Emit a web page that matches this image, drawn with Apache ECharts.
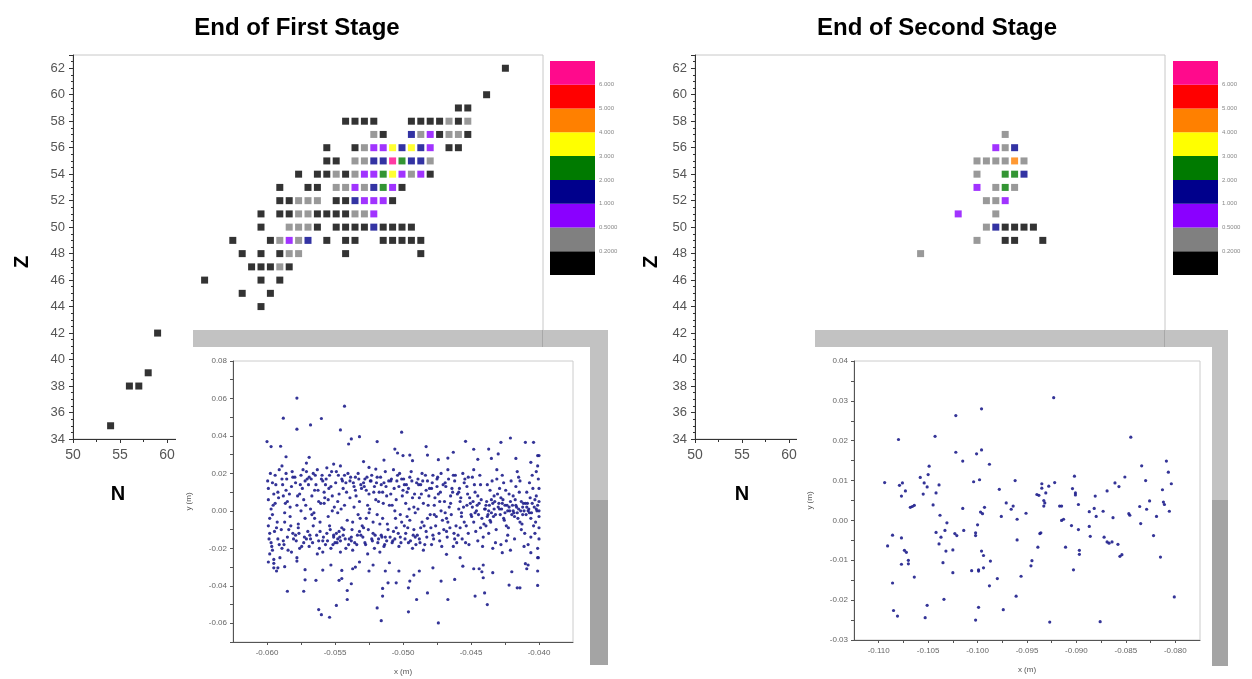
<!DOCTYPE html>
<html><head><meta charset="utf-8">
<script src="https://cdn.jsdelivr.net/npm/echarts/dist/echarts.min.js"></script>
<style>html,body{margin:0;padding:0;background:#fff}#c{width:1252px;height:679px}</style>
</head><body><div id="c"></div>
<script>
// ---------- DATA ----------
const panelTitles = ['End of First Stage', 'End of Second Stage'];
// colour classes (index 0 = lowest)
const levelColors = ['#000000','#808080','#8a00ff','#00008c','#007a00','#ffff00','#ff8000','#ff0000','#ff0a8c'];
const levelLabels = ['', '0.2000', '0.5000', '1.000', '2.000', '3.000', '4.000', '5.000', '6.000', ''];

// [N, Z, colour class]
const firstStageCells = [
[96,62,0],
[94,60,0],
[91,59,0],[92,59,0],
[79,58,0],[80,58,0],[81,58,0],[82,58,0],[86,58,0],[87,58,0],[88,58,0],[89,58,0],[90,58,1],[91,58,0],[92,58,1],
[82,57,1],[83,57,0],[86,57,3],[87,57,1],[88,57,2],[89,57,0],[90,57,1],[91,57,1],[92,57,0],
[77,56,0],[80,56,0],[81,56,1],[82,56,2],[83,56,2],[84,56,5],[85,56,3],[86,56,5],[87,56,3],[88,56,2],[90,56,0],[91,56,0],
[77,55,0],[78,55,0],[80,55,1],[81,55,1],[82,55,3],[83,55,3],[84,55,8],[85,55,4],[86,55,3],[87,55,3],[88,55,1],
[74,54,0],[76,54,0],[77,54,0],[78,54,1],[79,54,0],[80,54,1],[81,54,2],[82,54,2],[83,54,4],[84,54,5],[85,54,2],[86,54,1],[87,54,2],[88,54,0],
[72,53,0],[75,53,0],[76,53,0],[78,53,1],[79,53,1],[80,53,2],[81,53,1],[82,53,3],[83,53,4],[84,53,2],[85,53,0],
[72,52,0],[73,52,0],[74,52,1],[75,52,1],[76,52,1],[78,52,0],[79,52,0],[80,52,3],[81,52,2],[82,52,2],[83,52,2],[84,52,0],
[70,51,0],[72,51,0],[73,51,0],[74,51,1],[75,51,1],[76,51,0],[77,51,0],[78,51,0],[79,51,0],[80,51,1],[81,51,1],[82,51,2],
[70,50,0],[73,50,1],[74,50,1],[75,50,1],[76,50,0],[78,50,0],[79,50,0],[80,50,0],[81,50,0],[82,50,3],[83,50,0],[84,50,0],[85,50,0],[86,50,0],
[67,49,0],[71,49,0],[72,49,1],[73,49,2],[74,49,1],[75,49,3],[77,49,0],[79,49,0],[80,49,0],[83,49,0],[84,49,0],[85,49,0],[86,49,0],[87,49,0],
[68,48,0],[70,48,0],[72,48,0],[73,48,1],[74,48,1],[79,48,0],[87,48,0],
[69,47,0],[70,47,0],[71,47,0],[72,47,1],[73,47,0],
[64,46,0],[70,46,0],[72,46,0],
[68,45,0],[71,45,0],
[70,44,0],
[59,42,0],
[58,39,0],
[56,38,0],[57,38,0],
[54,35,0]
];

const secondStageCells = [
[83,57,1],
[82,56,2],[83,56,1],[84,56,3],
[80,55,1],[81,55,1],[82,55,1],[83,55,1],[84,55,6],[85,55,1],
[80,54,1],[83,54,4],[84,54,4],[85,54,3],
[80,53,2],[82,53,1],[83,53,4],[84,53,1],
[81,52,1],[82,52,1],[83,52,2],
[78,51,2],[82,51,1],
[81,50,1],[82,50,3],[83,50,0],[84,50,0],[85,50,0],[86,50,0],
[80,49,1],[83,49,0],[84,49,0],[87,49,0],
[74,48,1]
];

// inset scatter points, [x, y] in millimetres
const firstInsetPoints = [
[-60.0,37.0],[-59.7,34.3],[-59.0,34.5],[-58.6,28.9],[-58.8,49.5],[-57.8,60.2],[-57.8,43.6],[-56.8,45.9],[-56.0,49.3],[-56.9,28.6],[-54.6,43.2],[-54.3,55.9],[-54.0,35.7],[-53.8,38.4],[-53.2,39.6],[-52.9,26.3],[-51.9,37.0],[-51.4,27.1],[-50.6,33.0],[-50.1,42.0],[-50.4,30.9],[-50.0,29.5],[-49.5,29.8],[-48.3,34.3],[-48.2,29.8],[-47.4,27.3],[-46.7,28.2],[-45.4,37.1],[-44.8,32.9],[-44.5,27.5],[-43.7,33.0],[-42.8,36.6],[-42.1,38.9],[-41.0,36.6],[-40.4,36.6],[-40.1,29.5],[-40.0,29.5],[-41.7,28.0],[-40.6,25.9],[-43.0,30.4],[-43.5,28.0],[-46.3,31.3],[-49.3,26.8],[-57.1,25.5],[-55.1,25.0],[-52.5,23.2],[-52.0,22.3],
[-59.9,-27.3],[-59.5,-25.9],[-59.5,-30.4],[-59.3,-32.1],[-59.2,-30.4],[-58.7,-29.8],[-58.5,-42.9],[-57.8,-26.8],[-57.3,-42.9],[-57.2,-31.4],[-57.2,-36.8],[-56.4,-37.1],[-56.2,-52.7],[-56.0,-55.4],[-55.9,-31.6],[-55.4,-56.8],[-55.3,-28.9],[-54.9,-50.5],[-54.5,-31.8],[-54.7,-37.1],[-54.5,-36.1],[-54.1,-47.3],[-54.1,-42.5],[-53.8,-38.9],[-53.7,-30.9],[-53.5,-30.0],[-53.2,-27.3],[-52.5,-32.1],[-52.2,-28.9],[-51.9,-51.8],[-51.6,-58.6],[-51.5,-41.4],[-51.5,-45.5],[-51.3,-32.1],[-51.1,-38.4],[-51.0,-27.7],[-50.5,-38.4],[-50.3,-32.1],[-49.6,-53.9],[-49.6,-41.1],[-49.5,-37.5],[-49.2,-34.3],[-49.0,-47.3],[-48.8,-32.1],[-48.2,-43.8],[-47.8,-30.4],[-47.4,-59.8],[-47.2,-37.5],[-46.8,-23.2],[-46.7,-47.3],[-46.2,-36.6],[-45.8,-25.0],[-45.6,-29.5],[-44.8,-30.9],[-44.7,-45.5],[-44.4,-30.9],[-44.2,-32.5],[-44.1,-35.7],[-44.0,-43.8],[-44.1,-28.9],[-43.8,-50.0],[-43.4,-33.0],[-42.7,-22.3],[-42.2,-39.6],[-41.6,-41.1],[-41.4,-41.1],[-41.0,-28.2],[-40.8,-28.9],[-40.9,-30.9],[-40.1,-32.1],[-40.1,-39.8],[-40.1,-25.0],[-40.6,-22.3],[-42.0,-32.5],
[-59.9,12],[-59.8,-4],[-59.7,-17],[-59.9,6],[-59.6,-21],[-59.5,9],[-59.8,-12],[-59.4,19],[-59.7,1],[-59.3,-9],[-59.6,15],[-59.5,-28],[-59.2,-15],[-59.9,-8],[-59.4,4],[-59.1,22],[-59.6,-2],[-59.2,10],[-59.8,-23],[-59.1,-18],
[-58.9,17],[-58.7,-6],[-58.8,8],[-58.5,-14],[-58.6,20],[-58.3,2],[-58.9,-20],[-58.2,13],[-58.4,-10],[-58.7,-1],[-58.1,18],[-58.5,5],[-58.8,-16],[-58.2,-22],[-58.6,11],[-58.3,-3],[-58.1,-12],[-58.9,24],
[-57.9,15],[-57.7,-9],[-57.5,19],[-57.8,3],[-57.3,-17],[-57.6,9],[-57.2,-4],[-57.9,-13],[-57.4,12],[-57.1,21],[-57.6,-20],[-57.3,6],[-57.8,-25],[-57.0,-11],[-57.5,0],[-57.2,16],[-57.7,-7],[-57.1,-15],
[-56.9,18],[-56.7,-2],[-56.5,11],[-56.8,-15],[-56.3,22],[-56.6,-8],[-56.2,5],[-56.9,-19],[-56.4,14],[-56.1,-11],[-56.7,8],[-56.3,-23],[-56.5,-4],[-56.0,17],[-56.8,1],[-56.2,-16],[-56.6,20],[-56.1,-6],
[-55.9,16],[-55.6,-12],[-55.8,4],[-55.4,19],[-55.7,-18],[-55.2,8],[-55.5,-3],[-55.9,-22],[-55.3,13],[-55.1,-14],[-55.6,23],[-55.4,-8],[-55.8,10],[-55.0,-17],[-55.2,0],[-55.7,14],[-55.3,-20],[-55.5,6],[-55.1,-13],[-55.9,-16],
[-54.9,-12],[-54.8,-15],[-54.7,-11],[-54.6,-16],[-54.4,-13],[-54.5,-9],
[-54.9,21],[-54.7,9],[-54.5,17],[-54.8,-1],[-54.3,3],[-54.6,24],[-54.2,-20],[-54.4,12],[-54.1,-5],[-54.8,5],[-54.2,15],[-54.0,-18],[-54.6,-22],[-54.3,19],
[-53.9,16],[-53.7,-6],[-53.5,11],[-53.8,-14],[-53.3,20],[-53.6,2],[-53.2,-11],[-53.9,7],[-53.4,-18],[-53.1,14],[-53.7,-21],[-53.3,-2],[-53.5,18],[-53.0,-8],[-53.8,-16],[-53.2,5],[-53.6,13],[-53.1,-13],
[-52.9,15],[-52.7,-4],[-52.5,9],[-52.8,-17],[-52.3,19],[-52.6,3],[-52.2,-12],[-52.9,-9],[-52.4,16],[-52.1,-20],[-52.7,11],[-52.3,-15],[-52.5,-1],[-52.0,6],[-52.8,17],[-52.2,-6],[-52.6,-23],[-52.1,13],
[-51.9,18],[-51.6,-13],[-51.8,5],[-51.4,15],[-51.7,-7],[-51.2,-16],[-51.5,10],[-51.9,-2],[-51.3,21],[-51.1,-10],[-51.6,14],[-51.4,-19],[-51.8,-15],[-51.0,3],[-51.2,8],[-51.7,-22],[-51.5,-4],[-51.3,-14],
[-50.9,16],[-50.7,-11],[-50.5,6],[-50.8,-17],[-50.3,13],[-50.6,0],[-50.2,-14],[-50.9,9],[-50.4,19],[-50.1,-6],[-50.7,22],[-50.3,-19],[-50.5,-9],[-50.0,11],[-50.8,3],[-50.2,-2],[-50.6,-15],[-50.1,17],
[-49.9,14],[-49.7,-3],[-49.5,18],[-49.8,-12],[-49.3,7],[-49.6,-17],[-49.2,2],[-49.9,-8],[-49.4,21],[-49.1,-14],[-49.7,10],[-49.3,-20],[-49.5,-5],[-49.0,15],[-49.8,4],[-49.2,-10],[-49.6,12],[-49.1,-1],
[-48.9,17],[-48.7,-9],[-48.5,4],[-48.8,-15],[-48.3,11],[-48.6,20],[-48.2,-4],[-48.9,1],[-48.4,-18],[-48.1,8],[-48.7,14],[-48.3,-11],[-48.5,-21],[-48.0,-2],[-48.8,7],[-48.2,16],[-48.6,-6],
[-47.9,12],[-47.7,-2],[-47.5,17],[-47.8,-13],[-47.3,5],[-47.6,-8],[-47.2,20],[-47.9,-18],[-47.4,9],[-47.1,-5],[-47.7,3],[-47.3,-16],[-47.5,13],[-47.0,-10],[-47.8,19],[-47.2,0],
[-46.9,15],[-46.7,-6],[-46.5,8],[-46.8,-11],[-46.3,19],[-46.6,2],[-46.2,-15],[-46.9,-1],[-46.4,12],[-46.1,-8],[-46.7,22],[-46.3,-19],[-46.5,4],[-46.0,9],[-46.8,-4],[-46.2,16],
[-45.9,10],[-45.7,-3],[-45.5,15],[-45.8,-9],[-45.3,3],[-45.6,20],[-45.2,-12],[-45.9,1],[-45.4,-17],[-45.1,7],[-45.7,-1],[-45.3,13],[-45.5,-6],[-45.0,-2],[-45.8,5],[-45.2,18],
[-44.9,2],[-44.7,-1],[-44.5,8],[-44.8,-6],[-44.3,14],[-44.6,0],[-44.2,-4],[-44.9,18],[-44.4,4],[-44.1,-14],[-44.7,10],[-44.3,-9],[-44.5,-16],[-44.0,1],[-44.8,22],
[-43.9,3],[-43.7,0],[-43.5,6],[-43.8,-3],[-43.3,1],[-43.6,11],[-43.2,-2],[-43.9,-8],[-43.4,4],[-43.1,17],[-43.7,-12],[-43.3,8],[-43.5,-1],[-43.0,2],[-43.8,14],[-43.2,-17],[-43.6,-5],
[-42.9,1],[-42.7,4],[-42.5,-1],[-42.8,7],[-42.3,0],[-42.6,-4],[-42.2,2],[-42.9,12],[-42.4,-8],[-42.1,5],[-42.7,19],[-42.3,-13],[-42.5,3],[-42.0,-2],[-42.8,-18],[-42.2,9],[-42.6,15],
[-41.9,0],[-41.7,3],[-41.5,1],[-41.8,-3],[-41.3,5],[-41.6,-1],[-41.2,2],[-41.9,8],[-41.4,-6],[-41.1,0],[-41.7,13],[-41.3,-10],[-41.5,18],[-41.0,4],[-41.8,-15],[-41.2,-2],[-41.6,21],
[-40.9,2],[-40.7,-1],[-40.5,4],[-40.8,0],[-40.3,6],[-40.6,-4],[-40.2,1],[-40.9,10],[-40.4,-8],[-40.1,3],[-40.7,15],[-40.3,-12],[-40.5,19],[-40.0,-3],[-40.8,-18],[-40.2,8],[-40.1,-20],[-40.0,12],[-40.0,5],[-40.1,24],[-40.0,-15],
[-59.95,16],[-59.85,-15],[-59.75,20],[-59.65,-19],[-59.55,3],[-59.45,-11],[-59.35,14],[-59.25,-6],[-59.15,7],[-59.05,-25],
[-58.95,-10],[-58.85,14],[-58.75,-18],[-58.65,4],[-58.55,17],[-58.45,-21],[-58.35,9],[-58.25,-8],[-58.15,21],[-58.05,-15],
[-57.95,18],[-57.85,-16],[-57.75,8],[-57.65,-12],[-57.55,14],[-57.45,-19],[-57.35,22],[-57.25,-14],[-57.15,3],[-57.05,17],
[-56.95,14],[-56.85,-13],[-56.75,17],[-56.65,-17],[-56.55,-1],[-56.45,19],[-56.35,-13],[-56.25,11],[-56.15,-20],[-56.05,4],
[-55.95,19],[-55.85,-14],[-55.75,7],[-55.65,17],[-55.55,-16],[-55.45,12],[-55.35,-10],[-55.25,21],[-55.15,-18],[-55.05,2],
[-54.95,15],[-54.85,-17],[-54.75,19],[-54.65,-14],[-54.55,1],[-54.45,16],[-54.35,-10],[-54.25,-15],[-54.15,10],[-54.05,20],
[-53.95,-15],[-53.85,18],[-53.75,-10],[-53.65,15],[-53.55,-17],[-53.45,8],[-53.35,-13],[-53.25,17],[-53.15,-4],[-53.05,12],
[-52.95,-14],[-52.85,13],[-52.75,-18],[-52.65,18],[-52.55,-10],[-52.45,1],[-52.35,16],[-52.25,-16],[-52.15,10],[-52.05,-13],
[-51.95,15],[-51.85,-17],[-51.75,10],[-51.65,18],[-51.55,-14],[-51.45,4],[-51.35,-18],[-51.25,13],[-51.15,-7],[-51.05,16],
[-50.95,-14],[-50.85,17],[-50.75,-16],[-50.65,12],[-50.55,-4],[-50.45,16],[-50.35,-12],[-50.25,20],[-50.15,-17],[-50.05,8],
[-49.95,17],[-49.85,-15],[-49.75,14],[-49.65,-9],[-49.55,1],[-49.45,-16],[-49.35,16],[-49.25,-13],[-49.15,9],[-49.05,-18],
[-48.95,-13],[-48.85,14],[-48.75,-17],[-48.65,9],[-48.55,16],[-48.45,-8],[-48.35,19],[-48.25,-14],[-48.15,3],[-48.05,12],
[-47.95,-9],[-47.85,15],[-47.75,-15],[-47.65,7],[-47.55,-3],[-47.45,18],[-47.35,-12],[-47.25,10],[-47.15,-19],[-47.05,14],
[-46.95,5],[-46.85,13],[-46.75,-14],[-46.65,17],[-46.55,-9],[-46.45,-2],[-46.35,10],[-46.25,-12],[-46.15,19],[-46.05,-17],
[-45.95,-13],[-45.85,12],[-45.75,7],[-45.65,-15],[-45.55,2],[-45.45,17],[-45.35,-8],[-45.25,9],[-45.15,-18],[-45.05,4],
[-44.95,-3],[-44.85,5],[-44.75,14],[-44.65,-11],[-44.55,3],[-44.45,-2],[-44.35,19],[-44.25,6],[-44.15,-19],[-44.05,-7],
[-43.95,1],[-43.85,5],[-43.75,-2],[-43.65,3],[-43.55,-6],[-43.45,16],[-43.35,-3],[-43.25,5],[-43.15,-10],[-43.05,9],[-43.4,-20],[-43.1,22],
[-42.95,4],[-42.85,-2],[-42.75,1],[-42.65,6],[-42.55,-5],[-42.45,11],[-42.35,3],[-42.25,-9],[-42.15,0],[-42.05,16],[-42.4,-16],[-42.1,-21],
[-41.95,3],[-41.85,-1],[-41.75,6],[-41.65,2],[-41.55,-4],[-41.45,10],[-41.35,0],[-41.25,-7],[-41.15,4],[-41.05,-12],[-41.4,16],[-41.1,-19],
[-40.95,-2],[-40.85,4],[-40.75,1],[-40.65,7],[-40.55,-1],[-40.45,12],[-40.35,2],[-40.25,-6],[-40.15,0],[-40.05,17],[-40.6,-14],[-40.2,21],[-40.0,0],[-40.0,-9],[-40.05,-25]
];

const secondInsetPoints = [
[-109.4,9.5],[-109.1,-6.4],[-108.6,-3.7],[-108.6,-15.7],[-108.5,-22.6],[-108.1,-24.0],[-108.0,20.3],[-107.9,8.8],[-107.7,6.1],[-107.7,-4.4],[-107.7,-11.0],[-107.6,9.4],[-107.4,-7.5],[-107.3,7.4],[-107.2,-8.0],[-107.0,-10.0],[-107.0,-10.9],[-106.8,3.3],[-106.6,3.5],[-106.4,3.8],[-106.4,-14.2],[-105.8,10.8],[-105.5,6.6],[-105.4,9.4],[-105.3,-24.4],[-105.1,8.4],[-105.0,11.5],[-104.9,13.6],[-105.1,-21.3],[-104.5,3.9],[-104.3,21.1],[-104.2,6.9],[-104.2,-3.0],[-103.9,8.9],[-103.9,-5.9],[-103.8,1.3],[-103.7,-4.2],[-103.5,-10.6],[-103.4,-19.8],[-103.3,-2.5],[-103.2,-7.7],[-103.1,-0.6],[-102.5,-7.4],[-102.5,-13.1],[-102.3,-3.3],[-102.2,26.3],[-102.2,17.1],[-102.1,-3.8],[-101.5,14.9],[-101.5,3.0],[-101.4,-2.5],[-100.6,-12.6],[-100.4,9.7],[-100.2,-3.8],[-100.2,-3.1],[-100.2,-25.0],[-100.1,16.7],[-100.0,-1.1],[-99.9,-12.4],[-99.9,-12.7],[-99.9,-21.8],[-99.8,10.2],[-99.7,2.1],[-99.6,28.0],[-99.6,17.7],[-99.6,-7.7],[-99.5,1.7],[-99.4,-8.8],[-99.3,3.3],[-99.4,-11.9],[-98.8,14.1],[-98.8,-16.4],[-98.7,-10.2],[-98.0,-14.6],[-97.8,7.8],[-97.6,1.0],[-97.4,-22.4],[-97.1,4.4],[-96.6,2.8],[-96.4,3.6],[-96.2,10.0],[-96.1,-19.0],[-96.0,0.3],[-96.0,-4.9],[-95.6,-14.0],[-95.1,1.8],[-94.6,-11.4],[-94.5,-10.1],[-94.0,6.5],[-93.9,-6.7],[-93.8,6.3],[-93.7,-3.3],[-93.6,-3.1],[-93.5,9.2],[-93.5,8.1],[-93.3,5.0],[-93.3,3.6],[-93.2,4.4],[-93.1,6.9],[-92.8,8.6],[-92.7,-25.5],[-92.3,30.8],[-92.2,9.5],[-91.7,3.6],[-91.5,3.6],[-91.5,0.0],[-91.3,0.3],[-91.1,-6.7],[-90.5,-1.3],[-90.4,8.0],[-90.3,-12.4],[-90.2,11.1],[-90.1,6.9],[-90.1,6.4],[-89.8,4.0],[-89.8,-2.3],[-89.7,-7.5],[-89.7,-8.5],[-88.7,2.2],[-88.7,-1.5],[-88.6,-4.0],[-88.1,6.1],[-88.2,3.0],[-88.0,1.0],[-87.6,-25.4],[-87.3,2.3],[-87.2,-4.2],[-86.9,7.4],[-86.9,-5.4],[-86.7,-5.7],[-86.4,-5.4],[-86.3,0.7],[-86.1,9.4],[-85.7,8.5],[-85.8,-6.0],[-85.6,-9.0],[-85.4,-8.6],[-85.1,10.9],[-84.7,1.7],[-84.6,1.3],[-84.5,20.9],[-83.6,3.5],[-83.5,-0.8],[-83.4,13.7],[-83.0,10.0],[-82.9,2.8],[-82.6,4.9],[-82.2,-3.8],[-81.9,1.0],[-81.5,-9.2],[-81.3,7.7],[-81.2,4.6],[-81.1,4.0],[-80.9,14.9],[-80.7,12.1],[-80.6,2.3],[-80.4,9.2],[-80.1,-19.2]
];

// ---------- CHART ----------
const FONT = "'Liberation Sans', Arial, sans-serif";
const chart = echarts.init(document.getElementById('c'), null, {renderer: 'canvas'});

function heatX(gi) {
  return {gridIndex: gi, type: 'value', min: 50, max: 100, interval: 5, z: 0,
    axisLine: {onZero: false, lineStyle: {color: '#333', width: 1}},
    axisTick: {length: 4, lineStyle: {color: '#333'}},
    minorTick: {show: true, splitNumber: 2, length: 3, lineStyle: {color: '#333'}},
    splitLine: {show: false},
    axisLabel: {fontSize: 14, color: '#555', margin: 9, fontFamily: FONT}};
}
function heatY(gi) {
  return {gridIndex: gi, type: 'value', min: 34, max: 63, interval: 2, z: 0,
    axisLine: {onZero: false, lineStyle: {color: '#333', width: 1}},
    axisTick: {length: 4, lineStyle: {color: '#333'}},
    minorTick: {show: true, splitNumber: 4, length: 2, lineStyle: {color: '#333'}},
    splitLine: {show: false},
    axisLabel: {fontSize: 13, color: '#555', margin: 8, fontFamily: FONT, showMaxLabel: false,
      formatter: v => (v % 2 === 0 ? String(v) : '')}};
}
function cbX(gi) { return {gridIndex: gi, type: 'category', data: ['c'], show: false}; }
function cbY(gi) {
  return {gridIndex: gi, type: 'value', min: 0, max: 9, interval: 1, position: 'right',
    axisLine: {show: false}, axisTick: {show: false}, splitLine: {show: false},
    axisLabel: {fontSize: 6, color: '#888', margin: 4, fontFamily: FONT,
      showMinLabel: false, showMaxLabel: false, formatter: v => levelLabels[v] || ''}};
}
function insetX(gi, min, max, name) {
  return {gridIndex: gi, type: 'value', min: min, max: max, interval: 2.5, z: 10,
    name: name, nameLocation: 'middle', nameGap: 26,
    nameTextStyle: {fontSize: 8, color: '#555', fontFamily: FONT},
    axisLine: {onZero: false, lineStyle: {color: '#555'}},
    axisTick: {length: 3, lineStyle: {color: '#555'}},
    splitLine: {show: false},
    axisLabel: {fontSize: 8, color: '#666', margin: 7, fontFamily: FONT, showMinLabel: false, showMaxLabel: false,
      formatter: v => (Math.abs(v) % 5 === 0 ? (v / 1000).toFixed(3) : '')}};
}
function insetY(gi, min, max, step, name) {
  return {gridIndex: gi, type: 'value', min: min, max: max, interval: step / 2, z: 10,
    name: name, nameLocation: 'middle', nameGap: 40, nameRotate: 90,
    nameTextStyle: {fontSize: 8, color: '#555', fontFamily: FONT},
    axisLine: {onZero: false, lineStyle: {color: '#555'}},
    axisTick: {length: 3, lineStyle: {color: '#555'}},
    splitLine: {show: false},
    axisLabel: {fontSize: 8, color: '#666', margin: 6, fontFamily: FONT,
      formatter: v => (Math.abs(v) % step === 0 ? (v / 1000).toFixed(2) : '')}};
}

const series = [];
[firstStageCells, secondStageCells].forEach((cells, i) => {
  series.push({type: 'scatter', xAxisIndex: i, yAxisIndex: i, symbol: 'rect', symbolSize: 7, z: 3,
    data: cells, silent: true,
    itemStyle: {color: p => levelColors[p.data[2]]}});
});
[2, 3].forEach(ai => {
  levelColors.forEach((c, k) => {
    series.push({type: 'bar', xAxisIndex: ai, yAxisIndex: ai, stack: 'cb' + ai, barWidth: '100%',
      data: [1], itemStyle: {color: c}, silent: true});
  });
});
[firstInsetPoints, secondInsetPoints].forEach((pts, i) => {
  series.push({type: 'scatter', xAxisIndex: 4 + i, yAxisIndex: 4 + i, symbol: 'circle', symbolSize: 3.2, z: 12,
    data: pts, silent: true, itemStyle: {color: '#1e1e8c', opacity: 0.9}});
});

function txt(x, y, text, font, rot) {
  return {type: 'text', x: x, y: y, rotation: rot || 0, z: 20,
    style: {text: text, font: font, fill: '#000', textAlign: 'center', textVerticalAlign: 'middle',
      align: 'center', verticalAlign: 'middle'}};
}
function rect(x, y, w, h, fill, z) {
  return {type: 'rect', shape: {x: x, y: y, width: w, height: h}, style: {fill: fill}, z: z || 5, silent: true};
}

const graphics = [
  txt(297, 28, panelTitles[0], 'bold 24px ' + FONT),
  txt(937, 28, panelTitles[1], 'bold 24px ' + FONT),
  txt(22, 262, 'Z', 'bold 20px ' + FONT, Math.PI / 2),
  txt(651, 262, 'Z', 'bold 20px ' + FONT, Math.PI / 2),
  txt(118, 494, 'N', 'bold 20px ' + FONT),
  txt(742, 494, 'N', 'bold 20px ' + FONT),
  // inset covers
  rect(176, 347, 414, 332, '#ffffff', 5),
  rect(797, 347, 415, 332, '#ffffff', 5),
  rect(193, 330, 415, 17, '#c2c2c2', 6),
  rect(590, 347, 18, 153, '#c2c2c2', 6),
  rect(590, 500, 18, 165, '#a4a4a4', 6),
  rect(815, 330, 413, 17, '#c2c2c2', 6),
  rect(1212, 347, 16, 153, '#c2c2c2', 6),
  rect(1212, 500, 16, 166, '#a4a4a4', 6),
  rect(542, 330, 1, 17, '#a8a8a8', 7),
  rect(1164, 330, 1, 17, '#a8a8a8', 7)
];

chart.setOption({
  animation: false,
  backgroundColor: '#ffffff',
  grid: [
    {left: 73, top: 55, width: 470, height: 384, show: true, borderColor: '#c8c8c8', borderWidth: 1, z: 0},
    {left: 695, top: 55, width: 470, height: 384, show: true, borderColor: '#c8c8c8', borderWidth: 1, z: 0},
    {left: 550, top: 61, width: 45, height: 214},
    {left: 1173, top: 61, width: 45, height: 214},
    {left: 233, top: 361, width: 340, height: 281, show: true, borderColor: '#cccccc', borderWidth: 1, backgroundColor: '#ffffff', z: 10},
    {left: 854, top: 361, width: 346, height: 279, show: true, borderColor: '#cccccc', borderWidth: 1, backgroundColor: '#ffffff', z: 10}
  ],
  xAxis: [heatX(0), heatX(1), cbX(2), cbX(3),
    insetX(4, -62.5, -37.5, 'x (m)'), insetX(5, -112.5, -77.5, 'x (m)')],
  yAxis: [heatY(0), heatY(1), cbY(2), cbY(3),
    insetY(4, -70, 80, 20, 'y (m)'), insetY(5, -30, 40, 10, 'y (m)')],
  series: series,
  graphic: graphics
});
</script>
</body></html>
